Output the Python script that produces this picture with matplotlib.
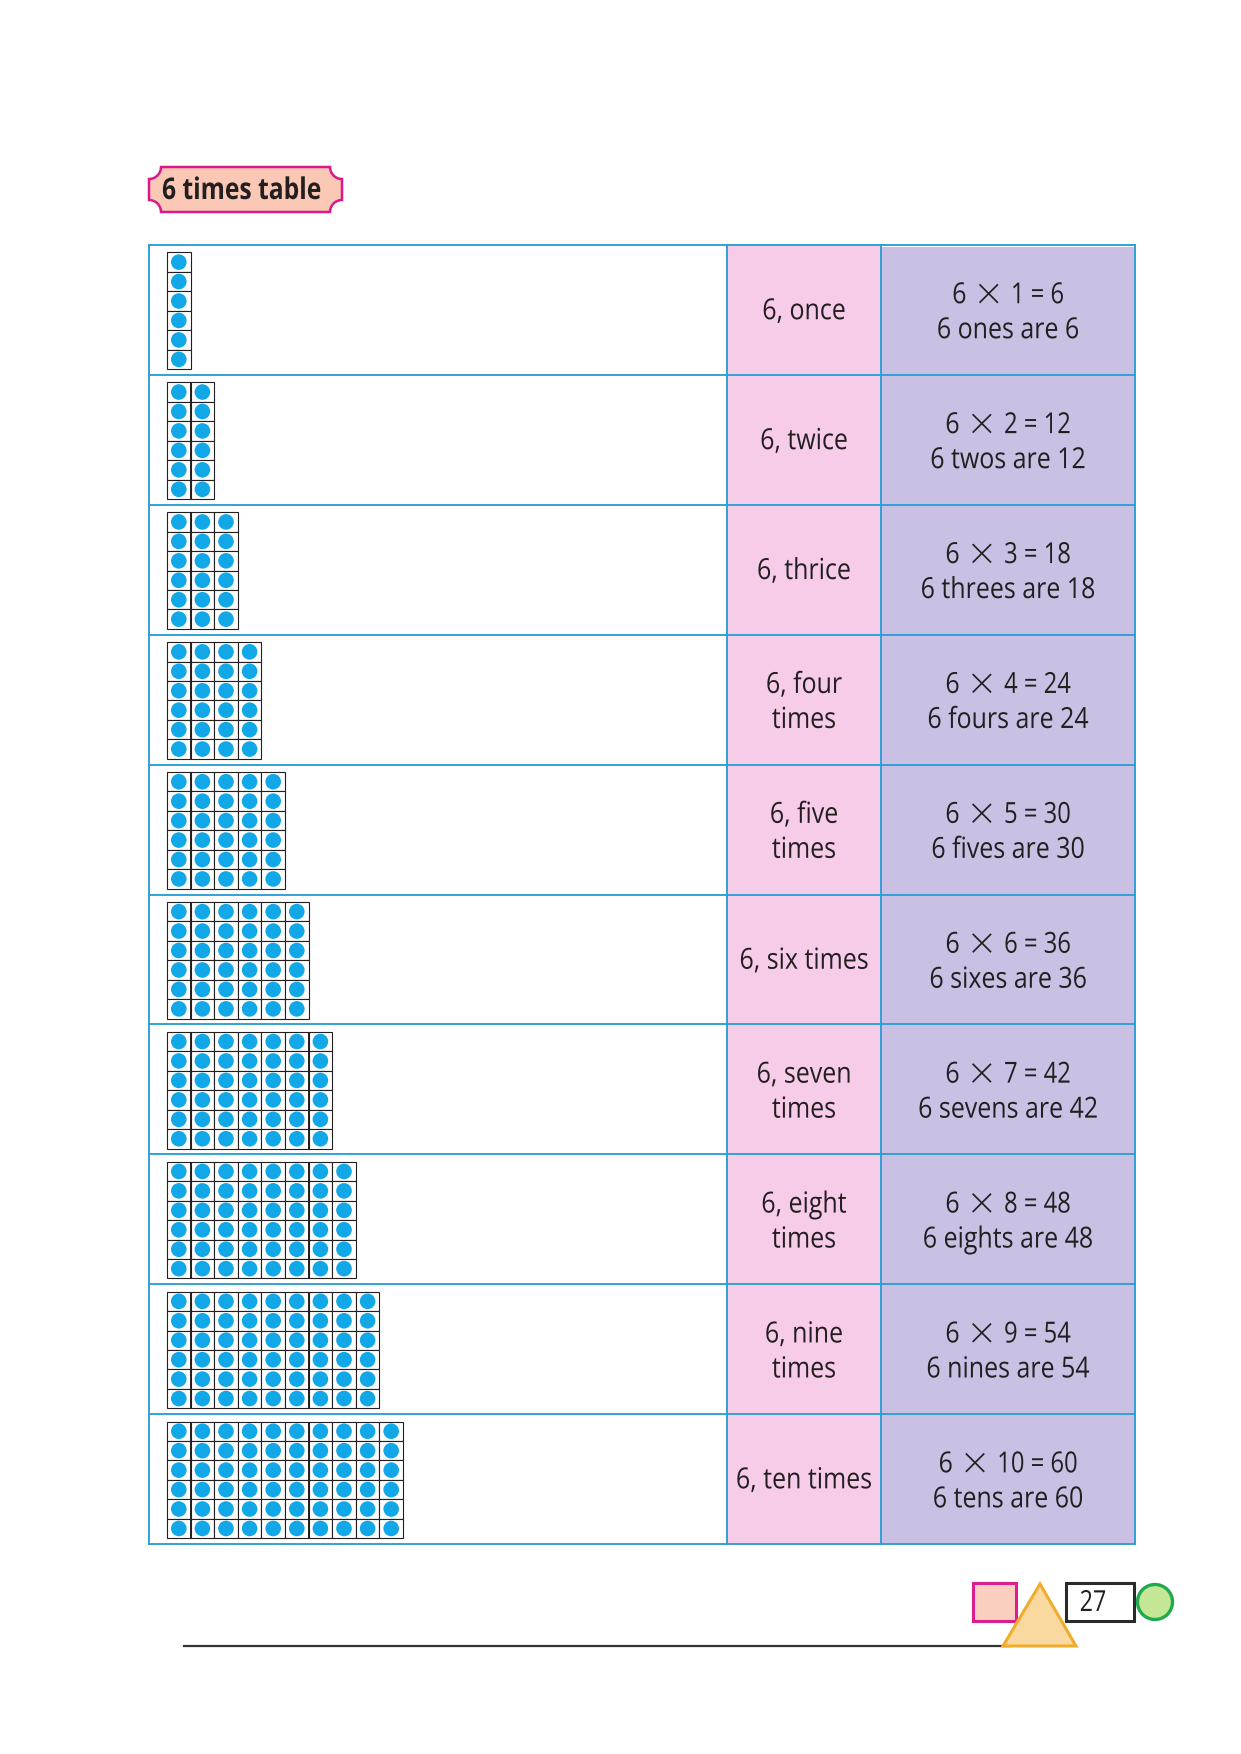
import matplotlib
matplotlib.use("Agg")
import matplotlib.pyplot as plt
from matplotlib.patches import Rectangle, Circle, Polygon, PathPatch
from matplotlib.path import Path
from matplotlib.patheffects import AbstractPathEffect
from matplotlib.transforms import Affine2D

FONT = ['Open Sans', 'DejaVu Sans']

multipliers = [1, 2, 3, 4, 5, 6, 7, 8, 9, 10]
products = [6, 12, 18, 24, 30, 36, 42, 48, 54, 60]
phrases = ["6, once", "6, twice", "6, thrice", "6, four\ntimes", "6, five\ntimes",
           "6, six times", "6, seven\ntimes", "6, eight\ntimes", "6, nine\ntimes", "6, ten times"]
plurals = ["ones", "twos", "threes", "fours", "fives", "sixes", "sevens", "eights", "nines", "tens"]
dots_per_column = 6
title = "6 times table"
page_number = "27"

W, H = 1241, 1754
fig = plt.figure(figsize=(W / 100, H / 100), dpi=100, facecolor='white')
ax = fig.add_axes([0, 0, 1, 1])
ax.set_xlim(0, W)
ax.set_ylim(H, 0)
ax.axis('off')
renderer = fig.canvas.get_renderer()


class Condense(AbstractPathEffect):
    """Squeeze a real text horizontally about its anchor (condensed face look)."""
    def __init__(self, anchor_x, sx):
        super().__init__()
        self.anchor_x, self.sx = anchor_x, sx

    def draw_path(self, renderer, gc, tpath, affine, rgbFace=None):
        squeeze = Affine2D().translate(-self.anchor_x, 0).scale(self.sx, 1).translate(self.anchor_x, 0)
        renderer.draw_path(gc, tpath, affine + squeeze, rgbFace)


def label(x, y, s, size=20.9, sx=0.86, ha='center', weight='normal'):
    return ax.text(x, y, s, ha=ha, va='baseline', fontsize=size, family=FONT, fontweight=weight,
                   color=INK, zorder=7, path_effects=[Condense(x, sx)])


def equation(xc, y, m, p):
    """6 x m = p with the wider, larger multiplication sign of the reference."""
    left = label(0, y, "6", ha='left')
    times = label(0, y + 5.5, "×", size=31, sx=1.0, ha='left', weight='light')
    right = label(0, y, f"{m} = {p}", ha='left', sx=0.82)
    wl = left.get_window_extent(renderer).width * 0.86
    wt = times.get_window_extent(renderer).width
    wr = right.get_window_extent(renderer).width * 0.82
    gap = 10.0
    x = xc - (wl + wt + wr + 2 * gap) / 2
    for t, dx, w, sx in ((left, 0, wl, 0.86), (times, wl + gap, wt, 1.0), (right, wl + wt + 2 * gap, wr, 0.82)):
        t.set_x(x + dx)
        t.set_path_effects([Condense(x + dx, sx)])


BLUE = '#2a9fd6'
PINK = '#f7cce8'
LAV = '#c9c0e4'
DOT = '#12a8e8'
INK = '#231f20'

x0, x1, x2, x3 = 149, 727, 881, 1135
y_top, y_bot = 245, 1544
row_h = (y_bot - y_top) / len(multipliers)
cell_w, cell_h = 23.6, 19.45
grid_x, grid_pad = 167, 7.4
BASE_UP, BASE_DOWN, BASE_MID = -6.7, 28.3, 9.3

for i, m in enumerate(multipliers):
    top = y_top + i * row_h
    cy = top + row_h / 2
    ax.add_patch(Rectangle((x1, top), x2 - x1, row_h, fc=PINK, ec='none', zorder=1))
    ax.add_patch(Rectangle((x2, top + (2 if i == 0 else 0)), x3 - x2, row_h, fc=LAV, ec='none', zorder=1))
    gy = top + grid_pad
    for c in range(m):
        for r in range(dots_per_column):
            cx_ = grid_x + c * cell_w
            cy_ = gy + r * cell_h
            ax.add_patch(Rectangle((cx_, cy_), cell_w, cell_h, fc='white', ec=INK, lw=0.8, zorder=2))
            ax.add_patch(Circle((cx_ + cell_w / 2, cy_ + cell_h / 2), 7.8, fc=DOT, ec='none', zorder=3))
    for c in (1, 6):
        if c < m:
            xx = grid_x + c * cell_w
            ax.plot([xx, xx], [gy, gy + 6 * cell_h], color=INK, lw=1.4, zorder=4, solid_capstyle='butt')
    xc2, xc3 = (x1 + x2) / 2, (x2 + x3) / 2
    lines = phrases[i].split("\n")
    if len(lines) == 1:
        label(xc2, cy + BASE_MID, lines[0])
    else:
        label(xc2, cy + BASE_UP, lines[0])
        label(xc2, cy + BASE_DOWN, lines[1])
    equation(xc3, cy + BASE_UP, m, products[i])
    label(xc3, cy + BASE_DOWN, f"6 {plurals[i]} are {products[i]}")

# table rules
for i in range(len(multipliers) + 1):
    y = y_top + i * row_h
    ax.plot([x0, x3], [y, y], color=BLUE, lw=1.35, zorder=6, solid_capstyle='projecting')
for x in (x0, x1, x2, x3):
    ax.plot([x, x], [y_top, y_bot], color=BLUE, lw=1.35, zorder=6, solid_capstyle='projecting')

# title badge with notched corners
bx0, bx1, by0, by1, n = 149, 342, 167, 212, 12
k = 0.55
verts = [(bx0 + n, by0), (bx1 - n, by0),
         (bx1 - n, by0 + n * k), (bx1 - n * k, by0 + n), (bx1, by0 + n),
         (bx1, by1 - n),
         (bx1 - n * k, by1 - n), (bx1 - n, by1 - n * k), (bx1 - n, by1),
         (bx0 + n, by1),
         (bx0 + n, by1 - n * k), (bx0 + n * k, by1 - n), (bx0, by1 - n),
         (bx0, by0 + n),
         (bx0 + n * k, by0 + n), (bx0 + n, by0 + n * k), (bx0 + n, by0),
         (bx0 + n, by0)]
codes = [Path.MOVETO, Path.LINETO,
         Path.CURVE4, Path.CURVE4, Path.CURVE4,
         Path.LINETO,
         Path.CURVE4, Path.CURVE4, Path.CURVE4,
         Path.LINETO,
         Path.CURVE4, Path.CURVE4, Path.CURVE4,
         Path.LINETO,
         Path.CURVE4, Path.CURVE4, Path.CURVE4,
         Path.CLOSEPOLY]
ax.add_patch(PathPatch(Path(verts, codes), fc='#fbc8b6', ec='#d9198c', lw=1.8, zorder=2))
label(162, 199, title, size=21.5, sx=0.825, ha='left', weight='bold')

# footer ornaments
ax.plot([184, 1010], [1646, 1646], color='#333333', lw=1.6, zorder=1)
ax.add_patch(Rectangle((973, 1583), 43, 38, fc='#fbcfc0', ec='#dc1f8e', lw=2.2, zorder=2))
ax.add_patch(Polygon([(1040, 1584), (1003, 1646), (1076, 1646)], closed=True,
                     fc='#fad9a0', ec='#f0ad2c', lw=2.2, zorder=3))
ax.add_patch(Rectangle((1065.5, 1582.5), 68, 38, fc='white', ec='#2a2a2a', lw=2.2, zorder=2))
label(1093, 1611, page_number, sx=0.8)
ax.add_patch(Circle((1155, 1602), 17.5, fc='#c4e796', ec='#1faa50', lw=2.4, zorder=2))

fig.savefig('out.png', dpi=100, facecolor='white')
